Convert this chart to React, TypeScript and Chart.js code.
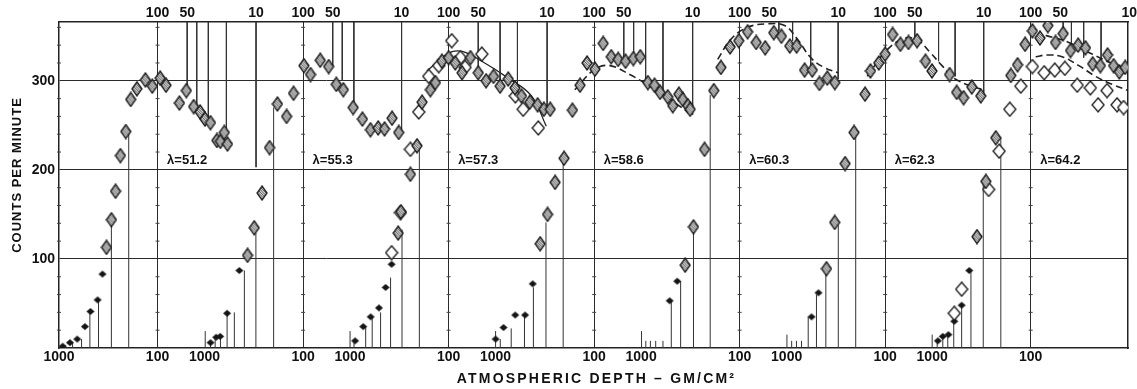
import React, { useEffect, useRef } from 'react';
import { Chart, registerables } from 'chart.js';
Chart.register(...registerables);

// ---- axes / layout constants ----
const PANEL_SHIFT = 1.477; // decades between successive flight panels
const X_MAX = 10.85;
const Y_MAX = 366;

const latitudes = ['λ=51.2', 'λ=55.3', 'λ=57.3', 'λ=58.6', 'λ=60.3', 'λ=62.3', 'λ=64.2'];
const LAMBDA_DEPTH = 80;
const LAMBDA_COUNT = 211;

const bottomTickDepths = [1000, 100];
const bottomTickLabels = ['1000', '100'];
const topTickDepths = [100, 50, 10];
const topTickLabels = ['100', '50', '10'];
const countTicks = [100, 200, 300];
const minorCountTicks = [20, 40, 60, 80, 120, 140, 160, 180, 220, 240, 260, 280, 320, 340, 360];

// ---- panel 1 (λ=51.2) ----
const p1SmallDepth = [918, 774, 653, 546, 479, 406, 362];
const p1SmallCount = [2, 6, 10, 24, 41, 54, 83];
const p1HatchDepth = [330, 294, 267, 238, 210, 187, 162, 133, 113, 94, 82, 60, 51, 43, 37, 33, 29, 25, 23, 21, 19.5];
const p1HatchCount = [113, 144, 176, 216, 243, 279, 291, 301, 294, 303, 295, 275, 289, 271, 265, 257, 253, 233, 232, 242, 229];
const p1UpDepth = [863, 728, 590, 486, 397, 294, 196];
const p1UpCount = [3, 6, 10, 41, 54, 144, 243];
const p1DownDepth = [50, 40, 30.5, 20, 10];
const p1DownCount = [290, 271, 257, 242, 203];

// ---- panel 2 (λ=55.3) ----
const p2SmallDepth = [869, 762, 694, 590, 443];
const p2SmallCount = [6, 12, 13, 39, 87];
const p2HatchDepth = [366, 313, 261, 219, 182, 147, 125, 98, 84, 67, 55, 46, 39, 31, 25, 20.7, 17.3, 14.9, 12.5, 10.7];
const p2HatchCount = [104, 135, 174, 225, 274, 260, 286, 317, 307, 323, 316, 296, 290, 270, 257, 245, 247, 246, 258, 242];
const p2UpDepth = [984, 869, 780, 689, 590, 498, 394, 301, 199];
const p2UpCount = [19, 6, 12, 13, 39, 40, 87, 129, 270];
const p2DownDepth = [50, 40, 30.5, 10];
const p2DownCount = [317, 300, 273, 245];

// ---- panel 3 (λ=57.3) ----
const p3SmallDepth = [889, 735, 618, 509, 436, 379];
const p3SmallCount = [8, 24, 35, 45, 68, 94];
const p3OpenDepth = [379, 308, 244, 201, 159, 126, 93, 76, 68, 46, 21, 17.5, 12.3];
const p3OpenCount = [107, 152, 223, 265, 305, 317, 345, 326, 315, 330, 283, 268, 247];
const p3HatchDepth = [325, 305, 244, 209, 186, 153, 136, 117, 100, 85.5, 73, 60, 50, 41.6, 35, 30, 24.8, 21.2, 18.2, 15, 12.5, 10.8, 9.3];
const p3HatchCount = [129, 153, 195, 227, 276, 290, 298, 322, 326, 320, 309, 326, 309, 300, 305, 294, 302, 292, 283, 276, 273, 268, 268];
const p3CurveDepth = [166, 100, 73, 46, 24.8, 14.4, 10.2];
const p3CurveCount = [311, 331, 333, 322, 303, 283, 249];
const p3UpDepth = [1000, 912, 694, 596, 490, 388, 297, 198];
const p3UpCount = [19, 6, 24, 35, 40, 79, 133, 226];
const p3DownDepth = [50, 30, 20, 10];
const p3DownCount = [316, 298, 287, 268];

// ---- panel 4 (λ=58.6) ----
const p4SmallDepth = [1000, 830, 632, 502, 420];
const p4SmallCount = [10, 23, 37, 37, 72];
const p4HatchDepth = [353, 297, 249, 202, 166, 139, 118, 98, 81, 67, 57, 48, 40, 34, 28.5, 24.4, 21.4, 17.9, 15.9, 13.8, 12.6, 11.2, 10.6];
const p4HatchCount = [117, 150, 186, 213, 267, 295, 320, 313, 342, 327, 324, 322, 325, 327, 298, 295, 287, 282, 272, 285, 279, 272, 268];
const p4CurveDepth = [157, 98, 69, 43.5, 27.4, 15.9, 10];
const p4CurveCount = [290, 313, 317, 307, 294, 277, 261];
const p4UpDepth = [1000, 896, 694, 509, 413, 308, 206];
const p4UpCount = [19, 10, 22, 37, 68, 141, 208];
const p4DownDepth = [50, 39.7, 30, 20, 10];
const p4DownCount = [325, 325, 298, 285, 262];

// ---- panel 5 (λ=60.3) ----
const p5SmallDepth = [513, 430];
const p5SmallCount = [53, 75];
const p5HatchDepth = [357, 294, 227, 183, 155, 125, 102, 83, 68, 55, 45, 37.7, 31, 26.4, 21.9, 18.3, 15.5, 12.9, 10.8];
const p5HatchCount = [93, 136, 223, 289, 315, 338, 345, 355, 343, 337, 354, 350, 339, 339, 312, 312, 297, 303, 298];
const p5CurveDepth = [167, 122, 83, 52, 35, 26, 19, 13.9, 10];
const p5CurveCount = [324, 347, 360, 364, 362, 347, 326, 315, 309];
const p5UpDepth = [990, 896, 805, 711, 600, 494, 397, 294, 199];
const p5UpCount = [19, 8, 8, 8, 8, 52, 75, 130, 284];
const p5DownDepth = [40, 29, 19, 10];
const p5DownCount = [356, 345, 317, 302];

// ---- panel 6 (λ=62.3) ----
const p6SmallDepth = [559, 475];
const p6SmallCount = [35, 62];
const p6HatchDepth = [394, 325, 255, 207, 160, 141, 116, 100, 84, 70, 58, 47.4, 39, 33.5, 22.2, 18.8, 16, 13.2, 10.7];
const p6HatchCount = [89, 141, 207, 242, 285, 311, 320, 330, 352, 341, 343, 345, 322, 311, 307, 287, 281, 293, 283];
const p6CurveDepth = [152, 95, 62, 46, 35, 26.5, 19.5, 9.7];
const p6CurveCount = [305, 335, 348, 345, 332, 317, 302, 289];
const p6UpDepth = [993, 889, 795, 706, 604, 498, 400, 299, 199];
const p6UpCount = [15, 8, 8, 8, 35, 60, 88, 138, 242];
const p6DownDepth = [50, 28.7, 19.5, 10];
const p6DownCount = [345, 322, 305, 282];

// ---- panel 7 (λ=64.2) ----
const p7SmallDepth = [875, 780, 684, 596, 502, 420];
const p7SmallCount = [8, 13, 15, 30, 48, 87];
const p7HatchDepth = [351, 285, 226, 159, 136, 114, 96, 80.5, 67, 56, 46.8, 39.4, 33, 27.8, 23.5, 19.6, 16.6, 14.4, 12.6, 11];
const p7HatchCount = [125, 187, 236, 306, 318, 341, 356, 348, 362, 343, 353, 334, 340, 337, 319, 317, 329, 317, 310, 315];
const p7OpenDepth = [596, 502, 267, 209, 163, 126, 96, 73, 57, 45, 33.7, 24.8, 20.7, 16.8, 13.3, 11.4];
const p7OpenCount = [39, 66, 178, 221, 268, 294, 316, 309, 312, 314, 295, 292, 273, 289, 273, 270];
const p7UpperDepth = [70.5, 41, 23.8, 13.8, 10.2];
const p7UpperCount = [351, 343, 330, 318, 313];
const p7LowerDepth = [89, 68, 48, 32.5, 22, 15, 10.2];
const p7LowerCount = [327, 329, 327, 317, 305, 296, 289];
const p7UpDepth = [1000, 889, 780, 694, 604, 502, 404, 303, 201];
const p7UpCount = [15, 8, 12, 15, 30, 48, 87, 185, 236];
const p7DownDepth = [46.8, 38.6, 29, 19.3];
const p7DownCount = [353, 338, 326, 321];

type Series = [number[], number[]];
const smallSeries: Series[] = [
  [p1SmallDepth, p1SmallCount], [p2SmallDepth, p2SmallCount], [p3SmallDepth, p3SmallCount],
  [p4SmallDepth, p4SmallCount], [p5SmallDepth, p5SmallCount], [p6SmallDepth, p6SmallCount],
  [p7SmallDepth, p7SmallCount],
];
const hatchSeries: Series[] = [
  [p1HatchDepth, p1HatchCount], [p2HatchDepth, p2HatchCount], [p3HatchDepth, p3HatchCount],
  [p4HatchDepth, p4HatchCount], [p5HatchDepth, p5HatchCount], [p6HatchDepth, p6HatchCount],
  [p7HatchDepth, p7HatchCount],
];
const openSeries: Series[] = [
  [[], []], [[], []], [p3OpenDepth, p3OpenCount], [[], []], [[], []], [[], []], [p7OpenDepth, p7OpenCount],
];
const upSeries: Series[] = [
  [p1UpDepth, p1UpCount], [p2UpDepth, p2UpCount], [p3UpDepth, p3UpCount], [p4UpDepth, p4UpCount],
  [p5UpDepth, p5UpCount], [p6UpDepth, p6UpCount], [p7UpDepth, p7UpCount],
];
const downSeries: Series[] = [
  [p1DownDepth, p1DownCount], [p2DownDepth, p2DownCount], [p3DownDepth, p3DownCount], [p4DownDepth, p4DownCount],
  [p5DownDepth, p5DownCount], [p6DownDepth, p6DownCount], [p7DownDepth, p7DownCount],
];
const curveSeries: { panel: number; s: Series; dashed: boolean }[] = [
  { panel: 2, s: [p3CurveDepth, p3CurveCount], dashed: false },
  { panel: 3, s: [p4CurveDepth, p4CurveCount], dashed: true },
  { panel: 4, s: [p5CurveDepth, p5CurveCount], dashed: true },
  { panel: 5, s: [p6CurveDepth, p6CurveCount], dashed: true },
  { panel: 6, s: [p7UpperDepth, p7UpperCount], dashed: true },
  { panel: 6, s: [p7LowerDepth, p7LowerCount], dashed: true },
];

const xPos = (panel: number, depth: number) => panel * PANEL_SHIFT + 3 - Math.log10(depth);

const pointsOf = (list: Series[]) =>
  list.flatMap(([d, c], p) => d.map((dv, i) => ({ x: xPos(p, dv), y: c[i] })));

const stemsOf = (list: Series[], base: number) =>
  list.flatMap(([d, c], p) =>
    d.flatMap((dv, i) => {
      const x = xPos(p, dv);
      return [{ x, y: base }, { x, y: c[i] }, { x, y: null as any }];
    })
  );

const bottomTicks = Array.from({ length: 7 }).flatMap((_, p) =>
  bottomTickDepths.map((d, k) => ({ value: xPos(p, d), label: bottomTickLabels[k], grid: d === 100 }))
);
const topTicks = Array.from({ length: 7 }).flatMap((_, p) =>
  topTickDepths.map((d, k) => ({ value: xPos(p, d), label: topTickLabels[k] }))
);
// small tick marks along the left axis and along each panel's 100 line
const minorTickMarks = [0, ...Array.from({ length: 7 }).map((_, p) => xPos(p, 100))].flatMap((x) =>
  minorCountTicks.map((c) => ({ x, y: c }))
);

function makeDiamond(w: number, h: number, kind: 'hatch' | 'open' | 'solid') {
  const c = document.createElement('canvas');
  c.width = w + 2;
  c.height = h + 2;
  const g = c.getContext('2d')!;
  const cx = (w + 2) / 2;
  const cy = (h + 2) / 2;
  const path = () => {
    g.beginPath();
    g.moveTo(cx, 1);
    g.lineTo(w + 1, cy);
    g.lineTo(cx, h + 1);
    g.lineTo(1, cy);
    g.closePath();
  };
  path();
  if (kind === 'solid') {
    g.fillStyle = '#151515';
    g.fill();
    return c;
  }
  g.fillStyle = kind === 'hatch' ? '#d4d4d4' : '#ffffff';
  g.fill();
  if (kind === 'hatch') {
    g.save();
    path();
    g.clip();
    g.strokeStyle = '#505050';
    g.lineWidth = 0.9;
    for (let k = -h - 4; k < w + h + 4; k += 2.5) {
      g.beginPath();
      g.moveTo(k, 0);
      g.lineTo(k + h + 2, h + 2);
      g.stroke();
    }
    g.restore();
  }
  path();
  g.strokeStyle = '#1a1a1a';
  g.lineWidth = 1.3;
  g.stroke();
  return c;
}

const FONT = '"Liberation Sans", Arial, sans-serif';

const textPlugin = {
  id: 'cosmicTexts',
  afterDatasetsDraw(chart: any) {
    const { ctx, scales } = chart;
    const x = scales.x;
    const y = scales.y;
    ctx.save();
    ctx.fillStyle = '#111';
    ctx.font = `bold 13px ${FONT}`;
    ctx.textAlign = 'left';
    ctx.textBaseline = 'middle';
    latitudes.forEach((t, i) => {
      ctx.fillText(t, x.getPixelForValue(xPos(i, LAMBDA_DEPTH)), y.getPixelForValue(LAMBDA_COUNT));
    });
    ctx.restore();
  },
  afterDraw(chart: any) {
    const { ctx, chartArea } = chart;
    ctx.save();
    ctx.fillStyle = '#111';
    ctx.textAlign = 'center';
    ctx.textBaseline = 'middle';
    ctx.font = `bold 13px ${FONT}`;
    try { (ctx as any).letterSpacing = '1px'; } catch (e) {}
    ctx.translate(17, 175);
    ctx.rotate(-Math.PI / 2);
    ctx.fillText('COUNTS PER MINUTE', 0, 0);
    ctx.restore();

    ctx.save();
    ctx.fillStyle = '#111';
    ctx.textAlign = 'center';
    ctx.textBaseline = 'middle';
    ctx.font = `bold 14px ${FONT}`;
    try { (ctx as any).letterSpacing = '2.2px'; } catch (e) {}
    ctx.fillText('ATMOSPHERIC DEPTH – GM/CM²', (chartArea.left + chartArea.right) / 2 + 3, 379);
    ctx.restore();
  },
};

export default function App() {
  const ref = useRef<HTMLCanvasElement>(null);
  useEffect(() => {
    const canvas = ref.current!;
    const hatchImg = makeDiamond(10, 14, 'hatch');
    const openImg = makeDiamond(12, 14, 'open');
    const solidImg = makeDiamond(8, 7, 'solid');
    const ink = '#222';
    const tickFont = { family: FONT, size: 14, weight: 'bold' as const };

    const datasets: any[] = [
      { label: 'hatched', data: pointsOf(hatchSeries), pointStyle: hatchImg, pointRadius: 5, showLine: false },
      { label: 'open', data: pointsOf(openSeries), pointStyle: openImg, pointRadius: 5, showLine: false },
      { label: 'small', data: pointsOf(smallSeries), pointStyle: solidImg, pointRadius: 4, showLine: false },
      ...curveSeries.map((cs) => ({
        type: 'line',
        label: 'curve',
        data: cs.s[0].map((d, i) => ({ x: xPos(cs.panel, d), y: cs.s[1][i] })),
        borderColor: ink,
        borderWidth: cs.dashed ? 1.6 : 1.3,
        borderDash: cs.dashed ? [7, 4] : [],
        pointRadius: 0,
        tension: 0.4,
        fill: false,
      })),
      {
        type: 'line', label: 'stems up', data: stemsOf(upSeries, 0), borderColor: '#333', borderWidth: 1,
        pointRadius: 0, spanGaps: false, tension: 0, fill: false,
      },
      {
        type: 'line', label: 'stems down', data: stemsOf(downSeries, Y_MAX), borderColor: '#333', borderWidth: 1,
        pointRadius: 0, spanGaps: false, tension: 0, fill: false,
      },
      {
        label: 'minor ticks', data: minorTickMarks, pointStyle: 'line', pointRadius: 2,
        pointBorderColor: '#444', pointBorderWidth: 1, showLine: false, clip: false,
      },
    ];

    const chart = new Chart(canvas, {
      type: 'scatter',
      data: { datasets },
      options: {
        responsive: false,
        animation: false,
        devicePixelRatio: 1,
        layout: { padding: 0, autoPadding: false } as any,
        plugins: { legend: { display: false }, tooltip: { enabled: false } },
        scales: {
          x: {
            type: 'linear', position: 'bottom', min: 0, max: X_MAX,
            afterBuildTicks: (s: any) => { s.ticks = bottomTicks.map((t) => ({ value: t.value })); },
            afterFit: (s: any) => { s.height = 41; },
            ticks: {
              autoSkip: false, maxRotation: 0, minRotation: 0, padding: 1, color: '#111', font: tickFont,
              callback: (_v: any, i: number) => bottomTicks[i]?.label ?? '',
            },
            grid: {
              drawTicks: false, lineWidth: 1,
              color: (c: any) => (bottomTicks[c.index]?.grid ? '#2a2a2a' : 'rgba(0,0,0,0)'),
            },
            border: { display: true, color: ink, width: 1.5 },
          },
          x2: {
            type: 'linear', position: 'top', min: 0, max: X_MAX,
            afterBuildTicks: (s: any) => { s.ticks = topTicks.map((t) => ({ value: t.value })); },
            afterFit: (s: any) => { s.height = 22; },
            ticks: {
              autoSkip: false, maxRotation: 0, minRotation: 0, padding: 0, color: '#111', font: tickFont,
              callback: (_v: any, i: number) => topTicks[i]?.label ?? '',
            },
            grid: { display: false, drawTicks: false },
            border: { display: true, color: ink, width: 1.5 },
          },
          y: {
            type: 'linear', position: 'left', min: 0, max: Y_MAX,
            afterBuildTicks: (s: any) => { s.ticks = countTicks.map((v) => ({ value: v })); },
            afterFit: (s: any) => { s.width = 59; },
            ticks: { padding: 4, color: '#111', font: tickFont },
            grid: { drawTicks: false, color: '#2a2a2a', lineWidth: 1 },
            border: { display: true, color: ink, width: 1.5 },
          },
          y2: {
            type: 'linear', position: 'right', min: 0, max: Y_MAX,
            afterFit: (s: any) => { s.width = 4; },
            ticks: { display: false },
            grid: { display: false, drawTicks: false },
            border: { display: true, color: ink, width: 1.5 },
          },
        },
      } as any,
      plugins: [textPlugin],
    });
    return () => chart.destroy();
  }, []);

  return (
    <div style={{ position: 'fixed', left: 0, top: 0, width: 1137, height: 389, background: '#fff' }}>
      <canvas ref={ref} width={1137} height={389} style={{ display: 'block', width: 1137, height: 389 }} />
    </div>
  );
}
